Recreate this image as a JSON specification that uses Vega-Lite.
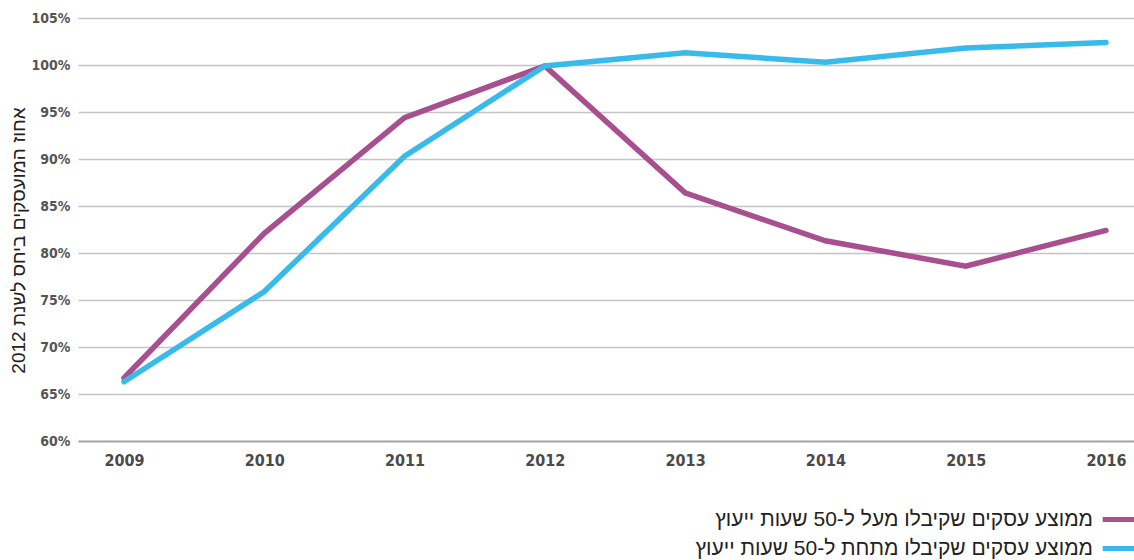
{
  "$schema": "https://vega.github.io/schema/vega-lite/v6.json",
  "width": 1056,
  "height": 423,
  "autosize": "none",
  "padding": {"left": 78, "top": 18, "right": 0, "bottom": 119},
  "background": "white",
  "config": {"view": {"stroke": null}},
  "data": {"values": [
    {"year": 2009, "value": 66.7, "series": "ממוצע עסקים שקיבלו מעל ל-50 שעות ייעוץ"},
    {"year": 2010, "value": 82.1, "series": "ממוצע עסקים שקיבלו מעל ל-50 שעות ייעוץ"},
    {"year": 2011, "value": 94.4, "series": "ממוצע עסקים שקיבלו מעל ל-50 שעות ייעוץ"},
    {"year": 2012, "value": 99.9, "series": "ממוצע עסקים שקיבלו מעל ל-50 שעות ייעוץ"},
    {"year": 2013, "value": 86.4, "series": "ממוצע עסקים שקיבלו מעל ל-50 שעות ייעוץ"},
    {"year": 2014, "value": 81.3, "series": "ממוצע עסקים שקיבלו מעל ל-50 שעות ייעוץ"},
    {"year": 2015, "value": 78.6, "series": "ממוצע עסקים שקיבלו מעל ל-50 שעות ייעוץ"},
    {"year": 2016, "value": 82.4, "series": "ממוצע עסקים שקיבלו מעל ל-50 שעות ייעוץ"},
    {"year": 2009, "value": 66.3, "series": "ממוצע עסקים שקיבלו מתחת ל-50 שעות ייעוץ"},
    {"year": 2010, "value": 75.9, "series": "ממוצע עסקים שקיבלו מתחת ל-50 שעות ייעוץ"},
    {"year": 2011, "value": 90.3, "series": "ממוצע עסקים שקיבלו מתחת ל-50 שעות ייעוץ"},
    {"year": 2012, "value": 99.9, "series": "ממוצע עסקים שקיבלו מתחת ל-50 שעות ייעוץ"},
    {"year": 2013, "value": 101.3, "series": "ממוצע עסקים שקיבלו מתחת ל-50 שעות ייעוץ"},
    {"year": 2014, "value": 100.3, "series": "ממוצע עסקים שקיבלו מתחת ל-50 שעות ייעוץ"},
    {"year": 2015, "value": 101.8, "series": "ממוצע עסקים שקיבלו מתחת ל-50 שעות ייעוץ"},
    {"year": 2016, "value": 102.4, "series": "ממוצע עסקים שקיבלו מתחת ל-50 שעות ייעוץ"}
  ]},
  "mark": {"type": "line", "strokeWidth": 5.5, "strokeCap": "round"},
  "encoding": {
    "x": {
      "field": "year", "type": "quantitative",
      "scale": {"domain": [2008.672, 2016.2], "nice": false, "zero": false},
      "axis": {
        "values": [2009, 2010, 2011, 2012, 2013, 2014, 2015, 2016],
        "format": "d", "title": null, "grid": false, "ticks": false,
        "domain": true, "domainColor": "#aaaaaa", "domainWidth": 2,
        "labelFont": "DejaVu Sans Condensed, sans-serif",
        "labelFontSize": 16, "labelFontWeight": "bold", "labelColor": "#4a4a4a", "labelPadding": 11
      }
    },
    "y": {
      "field": "value", "type": "quantitative",
      "scale": {"domain": [60, 105], "nice": false, "zero": false},
      "axis": {
        "values": [60, 65, 70, 75, 80, 85, 90, 95, 100, 105],
        "labelExpr": "datum.value + '%'",
        "grid": true, "gridColor": "#c4c4c4", "gridWidth": 1.5,
        "ticks": false, "domain": false,
        "labelFont": "DejaVu Sans Condensed, sans-serif",
        "labelFontSize": 14, "labelFontWeight": "bold", "labelColor": "#555555", "labelPadding": 8,
        "title": "אחוז המועסקים ביחס לשנת 2012",
        "titleFont": "Liberation Sans, sans-serif", "titleFontSize": 19, "titleFontWeight": "normal",
        "titleColor": "#222222", "titleX": -60, "titleY": 222, "titleAngle": 270,
        "titleAlign": "center", "titleBaseline": "middle"
      }
    },
    "color": {
      "field": "series", "type": "nominal",
      "scale": {
        "domain": ["ממוצע עסקים שקיבלו מעל ל-50 שעות ייעוץ", "ממוצע עסקים שקיבלו מתחת ל-50 שעות ייעוץ"],
        "range": ["#a84f8f", "#38bbeb"]
      },
      "legend": {
        "title": null, "orient": "none", "legendX": 1022, "legendY": 483,
        "direction": "vertical", "padding": 0,
        "symbolType": "stroke", "symbolSize": 1000, "symbolStrokeWidth": 5,
        "labelFont": "Liberation Sans, sans-serif", "labelFontSize": 21, "labelColor": "#222222",
        "labelAlign": "right", "labelOffset": -44, "labelLimit": 600,
        "rowPadding": 0
      }
    }
  }
}
